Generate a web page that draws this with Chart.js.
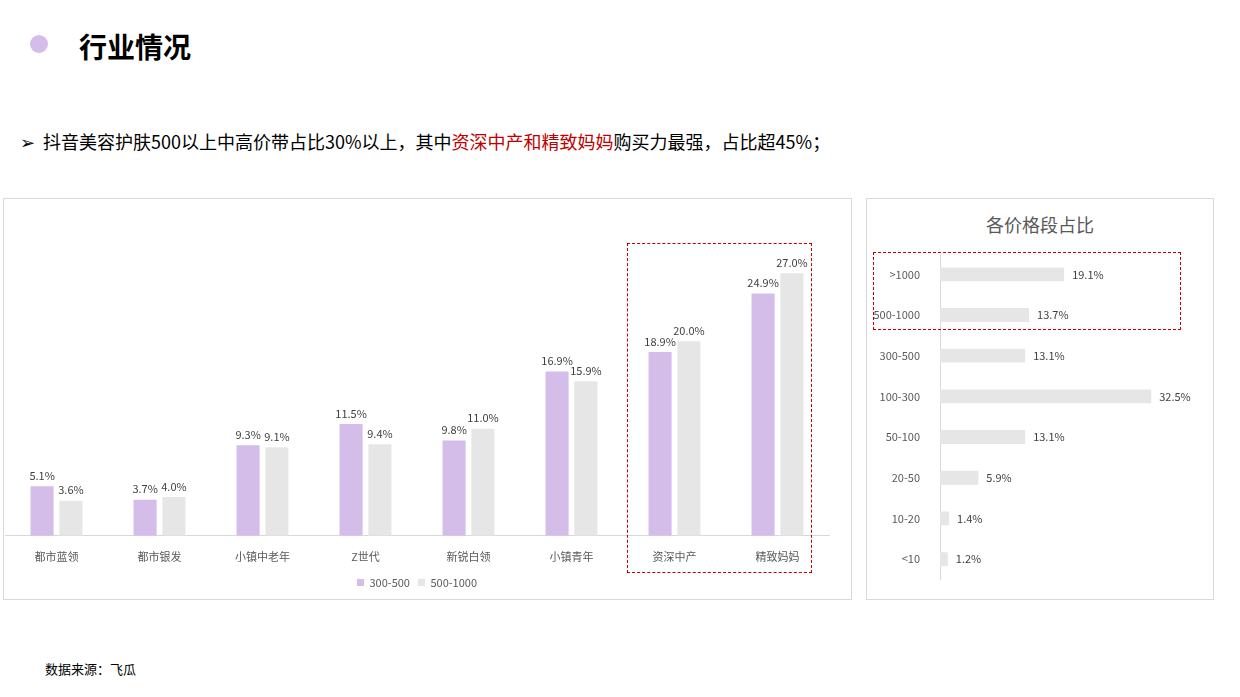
<!DOCTYPE html>
<html><head><meta charset="utf-8">
<script src="https://cdn.jsdelivr.net/npm/chart.js@4/dist/chart.umd.min.js"></script>
<style>
body{margin:0;width:1240px;height:697px;background:#fff;font-family:"Noto Sans CJK SC","Noto Sans",sans-serif;position:relative;overflow:hidden}
.abs{position:absolute}
.panel{position:absolute;border:1px solid #d9d9d9;box-sizing:border-box}
.dash{position:absolute;border:1px dashed #c00000;box-sizing:border-box}
</style></head><body>
<div class="abs" style="left:30px;top:35px;width:18px;height:18px;border-radius:50%;background:#d4bde9"></div>
<div class="abs" style="left:79px;top:26px;font-size:28px;font-weight:bold;color:#000;line-height:40px">行业情况</div>
<div class="abs" style="left:20px;top:128px;font-size:18px;color:#000;line-height:26px">➢&nbsp;&nbsp;抖音美容护肤500以上中高价带占比30%以上，其中<span style="color:#c00000">资深中产和精致妈妈</span>购买力最强，占比超45%；</div>
<div class="panel" style="left:3px;top:198px;width:849px;height:402px"></div>
<div class="panel" style="left:866px;top:198px;width:348px;height:402px"></div>
<div class="abs" style="left:866px;top:210px;width:348px;text-align:center;font-size:18px;color:#595959;line-height:28px">各价格段占比</div>
<div class="abs" style="left:4px;top:199px;width:846px;height:399px"><canvas id="c1"></canvas></div>
<div class="abs" style="left:867px;top:199px;width:345px;height:399px"><canvas id="c2"></canvas></div>
<div class="dash" style="left:627px;top:243px;width:185px;height:330px"></div>
<div class="dash" style="left:873px;top:252px;width:308px;height:78px"></div>
<div class="abs" style="left:45px;top:659px;font-size:13px;color:#000;line-height:20px">数据来源：飞瓜</div>
<script>
const categories=["都市蓝领","都市银发","小镇中老年","Z世代","新锐白领","小镇青年","资深中产","精致妈妈"];
const s300_500=[5.1,3.7,9.3,11.5,9.8,16.9,18.9,24.9];
const s500_1000=[3.6,4.0,9.1,9.4,11.0,15.9,20.0,27.0];
const priceBands=[">1000","500-1000","300-500","100-300","50-100","20-50","10-20","<10"];
const priceShares=[19.1,13.7,13.1,32.5,13.1,5.9,1.4,1.2];
const F='"Noto Sans CJK SC","Noto Sans",sans-serif';
Chart.defaults.font.family=F;
const labelPlugin={id:'lbl',afterDatasetsDraw(ch){const ctx=ch.ctx;ctx.save();ctx.font='11px '+F;ctx.fillStyle='#404040';
 const hor=ch.options.indexAxis==='y';
 ch.data.datasets.forEach((ds,i)=>{ch.getDatasetMeta(i).data.forEach((b,j)=>{const t=ds.data[j].toFixed(1)+'%';
  if(hor){ctx.textAlign='left';ctx.textBaseline='middle';ctx.fillText(t,b.x+8,b.y);}
  else{ctx.textAlign='center';ctx.textBaseline='bottom';ctx.fillText(t,b.x,b.y-5);}});});ctx.restore();}};
new Chart(document.getElementById('c1'),{type:'bar',plugins:[labelPlugin],
 data:{labels:categories,datasets:[
  {label:'300-500',data:s300_500,backgroundColor:'#d4bde9'},
  {label:'500-1000',data:s500_1000,backgroundColor:'#e6e6e6'}]},
 options:{responsive:true,maintainAspectRatio:false,animation:false,
  layout:{padding:{left:1,right:21,top:45,bottom:0}},
  datasets:{bar:{categoryPercentage:0.56,barPercentage:0.8}},
  plugins:{legend:{position:'bottom',labels:{boxWidth:7,boxHeight:7,font:{size:11},color:'#595959',padding:8}},tooltip:{enabled:false}},
  scales:{y:{display:false,min:0,max:30},
   x:{grid:{display:false},border:{color:'#d9d9d9'},ticks:{color:'#595959',font:{size:11},padding:6}}}}});
new Chart(document.getElementById('c2'),{type:'bar',plugins:[labelPlugin],
 data:{labels:priceBands,datasets:[{label:'占比',data:priceShares,backgroundColor:'#e6e6e6'}]},
 options:{indexAxis:'y',responsive:true,maintainAspectRatio:false,animation:false,
  layout:{padding:{left:0,right:12,top:55,bottom:4}},
  datasets:{bar:{categoryPercentage:1,barPercentage:0.34}},
  plugins:{legend:{display:false},tooltip:{enabled:false}},
  scales:{x:{display:false,min:0,max:40},
   y:{grid:{display:false},border:{color:'#d9d9d9'},afterFit(s){s.width=73;},ticks:{color:'#595959',font:{size:11},padding:12}}}}});
</script></body></html>
